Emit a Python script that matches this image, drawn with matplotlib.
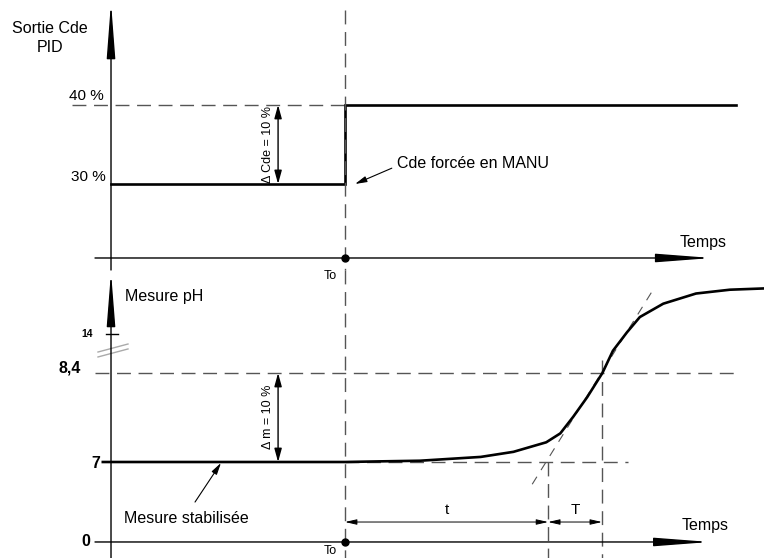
import matplotlib
matplotlib.use("Agg")
import matplotlib.pyplot as plt

plt.rcParams['font.family'] = ['Liberation Sans', 'DejaVu Sans']

# temps (unites arbitraires, To = 10)
T0 = 10.0
T_RETARD = 18.68      # fin du temps mort t
T_FIN = 20.98         # fin de la constante T

# sortie commande PID (%)
cde_time = [0.0, 10.0, 10.0, 26.7]
cde_value = [30, 30, 40, 40]

# mesure pH
ph_time = [-0.35, 10.0, 11.5, 13.2, 15.8, 17.2, 18.6, 19.2, 19.75, 20.35,
           21.0, 21.45, 22.05, 22.6, 23.6, 25.0, 26.45, 27.9]
ph_value = [7.0, 7.0, 7.01, 7.02, 7.08, 7.16, 7.31, 7.45, 7.71, 8.02,
            8.4, 8.75, 9.04, 9.28, 9.49, 9.65, 9.71, 9.73]

# tangente au point d'inflexion
tan_time = [18.0, 23.1]
tan_value = [6.65, 9.67]

PH_BAS = 7.0
PH_HAUT = 8.4

XLIM = (-4.744, 27.906)
DASH = (10, 5.5)
GREY = '#555555'

fig = plt.figure(figsize=(7.64, 5.58), dpi=100)
ax1 = fig.add_axes([0, 288 / 558, 1, 270 / 558])
ax2 = fig.add_axes([0, 0, 1, 288 / 558])
for ax in (ax1, ax2):
    ax.set_xlim(*XLIM)
    ax.axis('off')
ax1.set_ylim(19.11, 53.29)
ax2.set_ylim(5.49, 10.02)


def fleche(ax, x0, y0, x1, y1, hl, hw, lw=1.0, style='-|>'):
    ax.annotate('', xy=(x1, y1), xytext=(x0, y0), annotation_clip=False,
                arrowprops=dict(arrowstyle=f'{style},head_length={hl},head_width={hw}',
                                mutation_scale=1, lw=lw, color='black',
                                shrinkA=0, shrinkB=0))


# ---------- panneau haut : sortie Cde PID ----------
y_axe1 = 20.63
fleche(ax1, 0, 19.11, 0, 53.0, 34, 2.6)
fleche(ax1, -0.684, y_axe1, 25.68, y_axe1, 34, 2.6)
ax1.plot([-1.667, T0], [40, 40], color=GREY, lw=1, dashes=DASH)
ax1.plot(cde_time, cde_value, color='black', lw=1.9, solid_joinstyle='miter')
ax1.plot([T0, T0], [52.03, 19.11], color=GREY, lw=1, dashes=DASH, clip_on=False)
ax1.plot([T0], [y_axe1], 'o', color='black', ms=5, zorder=5)

fleche(ax1, 7.14, 30, 7.14, 40, 8, 2.2, style='<|-|>')
ax1.text(6.71, 35.06, 'Δ Cde = 10 %', rotation=90, ha='center', va='center', fontsize=9)

ax1.text(-1.07, 41.1, '40 %', ha='center', va='center', fontsize=11)
ax1.text(-0.98, 30.9, '30 %', ha='center', va='center', fontsize=11)
ax1.text(-2.6, 48.5, 'Sortie Cde\nPID', ha='center', va='center', fontsize=11.5,
         linespacing=1.3)
ax1.text(24.32, 22.6, 'Temps', ha='left', va='center', fontsize=11.5)
ax1.text(12.22, 32.65, 'Cde forcée en MANU', ha='left', va='center', fontsize=11.5)
fleche(ax1, 12.0, 32.0, 10.43, 30.0, 7, 1.8, lw=0.8)
ax1.text(9.36, 18.3, 'To', ha='center', va='center', fontsize=9)

# ---------- panneau bas : mesure pH ----------
y_axe2 = 5.742
fleche(ax2, 0, 5.49, 0, 9.99, 33, 2.6)
fleche(ax2, -0.684, y_axe2, 25.6, y_axe2, 34, 2.6)
ax2.plot([-0.214, 0.299], [9.0135, 9.0135], color='black', lw=1)
ax2.plot([-0.556, 0.726], [8.73, 8.856], color='#aaaaaa', lw=1)
ax2.plot([-0.556, 0.726], [8.652, 8.778], color='#aaaaaa', lw=1)

ax2.plot([-0.684, 26.67], [PH_HAUT, PH_HAUT], color=GREY, lw=1, dashes=DASH)
ax2.plot([T0, 22.1], [PH_BAS, PH_BAS], color=GREY, lw=1, dashes=DASH)
ax2.plot([T0, T0], [10.02, 5.49], color=GREY, lw=1, dashes=DASH, clip_on=False)
ax2.plot([T_RETARD, T_RETARD], [PH_BAS, 5.49], color=GREY, lw=1, dashes=DASH)
ax2.plot([T_FIN, T_FIN], [8.6, 5.49], color=GREY, lw=1, dashes=DASH)
ax2.plot(tan_time, tan_value, color=GREY, lw=0.8, dashes=(8, 7))
ax2.plot(ph_time, ph_value, color='black', lw=1.9)
ax2.plot([T0], [y_axe2], 'o', color='black', ms=5, zorder=5)

fleche(ax2, 7.14, PH_BAS, 7.14, PH_HAUT, 8, 2.2, style='<|-|>')
ax2.text(6.71, 7.708, 'Δ m = 10 %', rotation=90, ha='center', va='center', fontsize=9)

# dimensions t et T
y_cote = 6.056
fleche(ax2, T0, y_cote, T_RETARD, y_cote, 7, 1.6, lw=0.7, style='<|-|>')
fleche(ax2, T_RETARD, y_cote, T_FIN, y_cote, 7, 1.6, lw=0.7, style='<|-|>')
ax2.text((T0 + T_RETARD) / 2, 6.24, 't', ha='center', va='center', fontsize=11)
ax2.text((T_RETARD + T_FIN) / 2, 6.24, 'T', ha='center', va='center', fontsize=11)

# graduations
ax2.text(-1.03, 9.0135, '14', ha='center', va='center', fontsize=7.5, fontweight='bold')
ax2.text(-1.76, 8.48, '8,4', ha='center', va='center', fontsize=11.5, fontweight='bold')
ax2.text(-0.64, 6.98, '7', ha='center', va='center', fontsize=11.5, fontweight='bold')
ax2.text(-1.07, 5.742, '0', ha='center', va='center', fontsize=11.5, fontweight='bold')

ax2.text(0.6, 9.611, 'Mesure pH', ha='left', va='center', fontsize=11.5)
ax2.text(0.56, 6.119, 'Mesure stabilisée', ha='left', va='center', fontsize=11.5)
fleche(ax2, 3.59, 6.37, 4.70, 6.985, 7, 1.8, lw=0.8)
ax2.text(24.4, 6.0, 'Temps', ha='left', va='center', fontsize=11.5)
ax2.text(9.36, 5.49 + (558 - 551) / 63.57, 'To', ha='center', va='center', fontsize=9)

fig.savefig('out.png', dpi=100)
